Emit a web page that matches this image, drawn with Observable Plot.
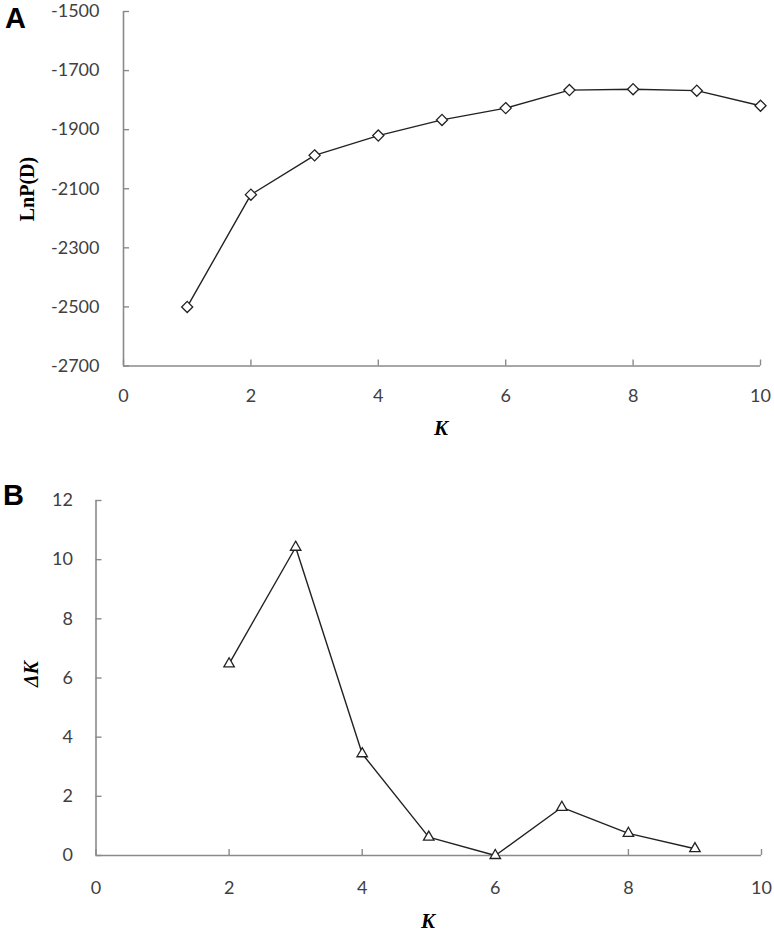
<!DOCTYPE html>
<html>
<head>
<meta charset="utf-8">
<script src="https://cdn.jsdelivr.net/npm/d3@7"></script>
<script src="https://cdn.jsdelivr.net/npm/@observablehq/plot@0.6"></script>
<style>
  html, body { margin: 0; padding: 0; background: #fff; }
  #wrap { position: relative; width: 774px; height: 933px; background: #fff; }
  .plot { position: absolute; left: 0; }
  .panel { position: absolute; font-family: "Liberation Sans", Arial, sans-serif; font-weight: bold; font-size: 29px; line-height: 1; color: #000; }
  .ylab { position: absolute; font-family: "Liberation Serif", "Times New Roman", serif; font-weight: bold; font-size: 20px; color: #000; white-space: nowrap; transform: translate(-50%, -50%) rotate(-90deg); }
  .xlab { position: absolute; font-family: "Liberation Serif", "Times New Roman", serif; font-weight: bold; font-style: italic; font-size: 21px; color: #000; transform: translate(-50%, -50%); }
</style>
</head>
<body>
<div id="wrap">
  <div id="A" class="plot" style="top:0"></div>
  <div id="B" class="plot" style="top:445px"></div>
  <div class="panel" style="left:5px;top:4px">A</div>
  <div class="panel" style="left:3px;top:481px">B</div>
  <div class="ylab" style="left:27px;top:189px">LnP(D)</div>
  <div class="ylab" style="left:31px;top:674px;font-style:italic">ΔK</div>
  <div class="xlab" style="left:441px;top:428px">K</div>
  <div class="xlab" style="left:428px;top:921px">K</div>
</div>
<script>
// Panel A data
const kA = [1, 2, 3, 4, 5, 6, 7, 8, 9, 10];
const lnP = [-2500, -2120, -1987, -1920, -1867, -1827, -1766, -1763, -1768, -1819];
const xTicks = [0, 2, 4, 6, 8, 10];
const yTicksA = [-2700, -2500, -2300, -2100, -1900, -1700, -1500];

// Panel B data
const kB = [2, 3, 4, 5, 6, 7, 8, 9];
const deltaK = [6.48, 10.42, 3.44, 0.62, 0.0, 1.63, 0.75, 0.23];
const yTicksB = [0, 2, 4, 6, 8, 10, 12];

const axisColor = "#8a8a8a";
const textColor = "#404040";
const fmt = d => String(d);
const font = { fontFamily: "Lato, 'Open Sans', sans-serif", fontSize: "18px", color: textColor, background: "#fff", overflow: "visible" };

const dataA = kA.map((k, i) => ({ k, v: lnP[i] }));
const dataB = kB.map((k, i) => ({ k, v: deltaK[i] }));

const plotA = Plot.plot({
  width: 774, height: 445,
  marginLeft: 123, marginRight: 14, marginTop: 11, marginBottom: 79.5,
  x: { domain: [0, 10] },
  y: { domain: [-2700, -1500] },
  style: font,
  marks: [
    Plot.ruleX([0], { stroke: axisColor, strokeWidth: 1.6 }),
    Plot.ruleY([-2700], { stroke: axisColor, strokeWidth: 1.6 }),
    Plot.axisX({ ticks: xTicks, tickFormat: fmt, tickSize: -6, tickPadding: 29, label: null, stroke: axisColor, fill: textColor, strokeWidth: 1.4 }),
    Plot.axisY({ ticks: yTicksA, tickFormat: fmt, tickSize: -6, tickPadding: 30, label: null, stroke: axisColor, fill: textColor, strokeWidth: 1.4 }),
    Plot.line(dataA, { x: "k", y: "v", stroke: "#222", strokeWidth: 1.4 }),
    Plot.dot(dataA, { x: "k", y: "v", symbol: "diamond2", r: 5, stroke: "#222", fill: "#fff", strokeWidth: 1.3 })
  ]
});
document.getElementById("A").appendChild(plotA);

const plotB = Plot.plot({
  width: 774, height: 488,
  marginLeft: 95.5, marginRight: 13, marginTop: 55, marginBottom: 78,
  x: { domain: [0, 10] },
  y: { domain: [0, 12] },
  style: font,
  marks: [
    Plot.ruleX([0], { stroke: axisColor, strokeWidth: 1.6 }),
    Plot.ruleY([0], { stroke: axisColor, strokeWidth: 1.6 }),
    Plot.axisX({ ticks: xTicks, tickFormat: fmt, tickSize: -6, tickPadding: 32, label: null, stroke: axisColor, fill: textColor, strokeWidth: 1.4 }),
    Plot.axisY({ ticks: yTicksB, tickFormat: fmt, tickSize: -6, tickPadding: 29, label: null, stroke: axisColor, fill: textColor, strokeWidth: 1.4 }),
    Plot.line(dataB, { x: "k", y: "v", stroke: "#222", strokeWidth: 1.4 }),
    Plot.dot(dataB, { x: "k", y: "v", symbol: "triangle2", r: 5, stroke: "#222", fill: "#fff", strokeWidth: 1.3 })
  ]
});
document.getElementById("B").appendChild(plotB);
</script>
</body>
</html>
